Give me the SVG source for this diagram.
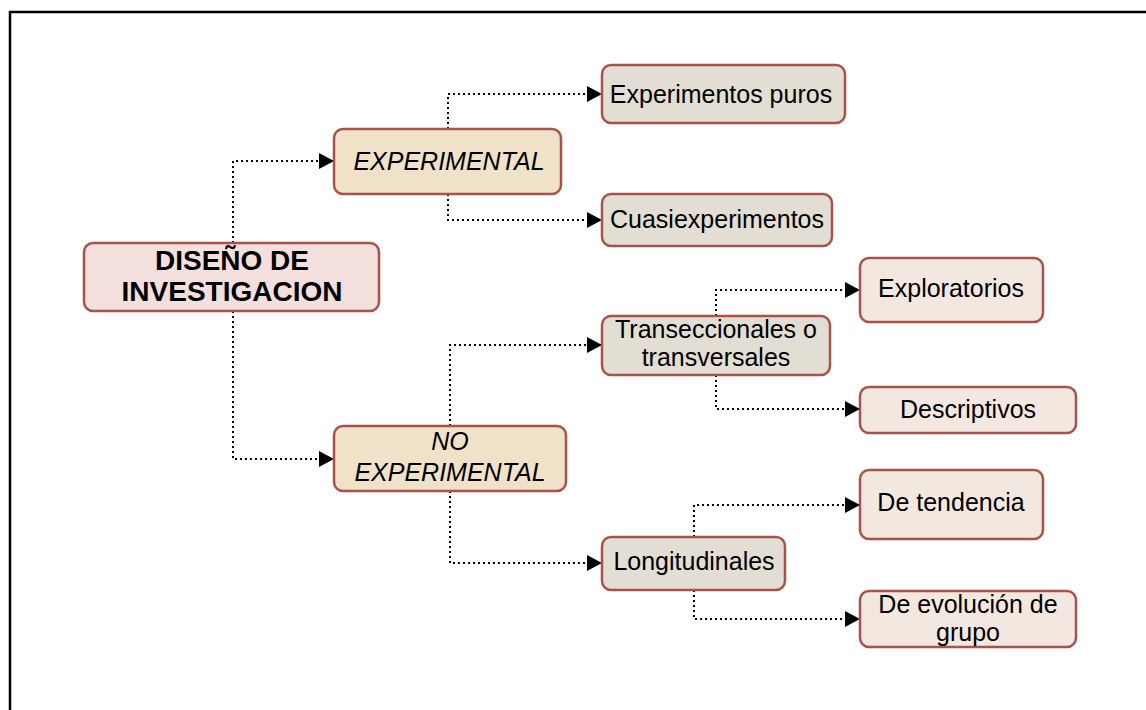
<svg xmlns="http://www.w3.org/2000/svg" width="1146" height="710" viewBox="0 0 1146 710">
<style>
.box{stroke:#a9524c;stroke-width:2.5}
.root{fill:#f3e0dc}
.l1{fill:#efe2c9}
.l2{fill:#e3ded3}
.l3{fill:#f3e8e0}
text{font-family:"Liberation Sans",Arial,sans-serif;font-size:25px;fill:#000;text-anchor:middle}
.b{font-weight:bold;font-size:28px}
.i{font-style:italic}
.c{fill:none;stroke:#000;stroke-width:2;stroke-dasharray:2 3;marker-end:url(#ah)}
</style>
<defs>
<marker id="ah" markerUnits="userSpaceOnUse" markerWidth="18" markerHeight="18" refX="15" refY="8" orient="auto">
<path d="M0,0 L15,8 L0,16 Z" fill="#000"/>
</marker>
</defs>
<rect width="1146" height="710" fill="#fff"/>
<path d="M10,710 V12 H1146" fill="none" stroke="#000" stroke-width="2.5"/>
<g id="connectors">
<path class="c" d="M233,243 V161 H334"/>
<path class="c" d="M233,311 V459 H334"/>
<path class="c" d="M448,129 V94 H602"/>
<path class="c" d="M448,194 V220 H602"/>
<path class="c" d="M450,426 V345 H602"/>
<path class="c" d="M450,491 V563 H602"/>
<path class="c" d="M716,316 V290 H860"/>
<path class="c" d="M716,375 V409 H860"/>
<path class="c" d="M694,537 V505 H860"/>
<path class="c" d="M694,590 V619 H860"/>
</g>
<g id="n-diseno"><rect class="box root" x="84" y="243" width="295" height="68" rx="9"/><text class="b" x="232" y="270">DISEÑO DE</text><text class="b" x="232" y="301">INVESTIGACION</text></g>
<g id="n-experimental"><rect class="box l1" x="334" y="129" width="227" height="65" rx="9"/><text class="i" x="449" y="170">EXPERIMENTAL</text></g>
<g id="n-puros"><rect class="box l2" x="602" y="65" width="243" height="58" rx="9"/><text x="721" y="103">Experimentos puros</text></g>
<g id="n-cuasi"><rect class="box l2" x="602" y="194" width="230" height="52" rx="9"/><text x="717" y="228">Cuasiexperimentos</text></g>
<g id="n-trans"><rect class="box l2" x="602" y="316" width="228" height="59" rx="9"/><text x="716" y="338">Transeccionales o</text><text x="716" y="366">transversales</text></g>
<g id="n-explor"><rect class="box l3" x="860" y="258" width="183" height="64" rx="9"/><text x="951" y="297">Exploratorios</text></g>
<g id="n-descr"><rect class="box l3" x="860" y="387" width="216" height="46" rx="9"/><text x="968" y="418">Descriptivos</text></g>
<g id="n-noexp"><rect class="box l1" x="334" y="426" width="232" height="65" rx="9"/><text class="i" x="450" y="450">NO</text><text class="i" x="450" y="481">EXPERIMENTAL</text></g>
<g id="n-longi"><rect class="box l2" x="602" y="537" width="183" height="53" rx="9"/><text x="694" y="570">Longitudinales</text></g>
<g id="n-tend"><rect class="box l3" x="860" y="470" width="183" height="69" rx="9"/><text x="951" y="511">De tendencia</text></g>
<g id="n-evol"><rect class="box l3" x="860" y="591" width="216" height="56" rx="9"/><text x="968" y="613">De evolución de</text><text x="968" y="641">grupo</text></g>
</svg>
